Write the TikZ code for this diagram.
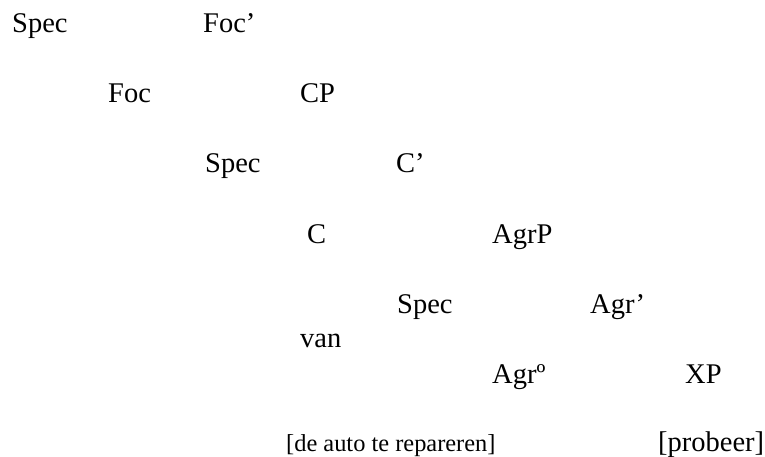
\documentclass[tikz,border=0pt]{standalone}
\usepackage{fontspec}
\setmainfont{Liberation Serif}
\begin{document}
\begin{tikzpicture}[x=1pt,y=-1pt,
  lbl/.style={anchor=base west,inner sep=0pt,font=\fontsize{28.5}{32}\selectfont},
  small/.style={anchor=base west,inner sep=0pt,font=\fontsize{24.4}{28}\selectfont}]
  \useasboundingbox (0,0) rectangle (765,457);
  % FocP
  \node[lbl] (spec1) at (12,33) {Spec};
  \node[lbl] (focbar) at (203,33) {Foc’};
  \node[lbl] (foc) at (108,103) {Foc};
  \node[lbl] (cp) at (300,103) {CP};
  % CP
  \node[lbl] (spec2) at (205,173) {Spec};
  \node[lbl] (cbar) at (396,173) {C’};
  \node[lbl] (c) at (307,243) {C};
  \node[lbl] (agrp) at (492,243) {AgrP};
  % AgrP
  \node[lbl] (spec3) at (397,313) {Spec};
  \node[lbl] (agrbar) at (590,313) {Agr’};
  \node[lbl] (van) at (300,347) {van};
  \node[lbl] (agr0) at (492,383) {Agrº};
  \node[lbl] (xp) at (685,383) {XP};
  % terminals
  \node[small] (vp) at (286,451) {[de auto te repareren]};
  \node[lbl] (probeer) at (658,451) {[probeer]};
\end{tikzpicture}
\end{document}
